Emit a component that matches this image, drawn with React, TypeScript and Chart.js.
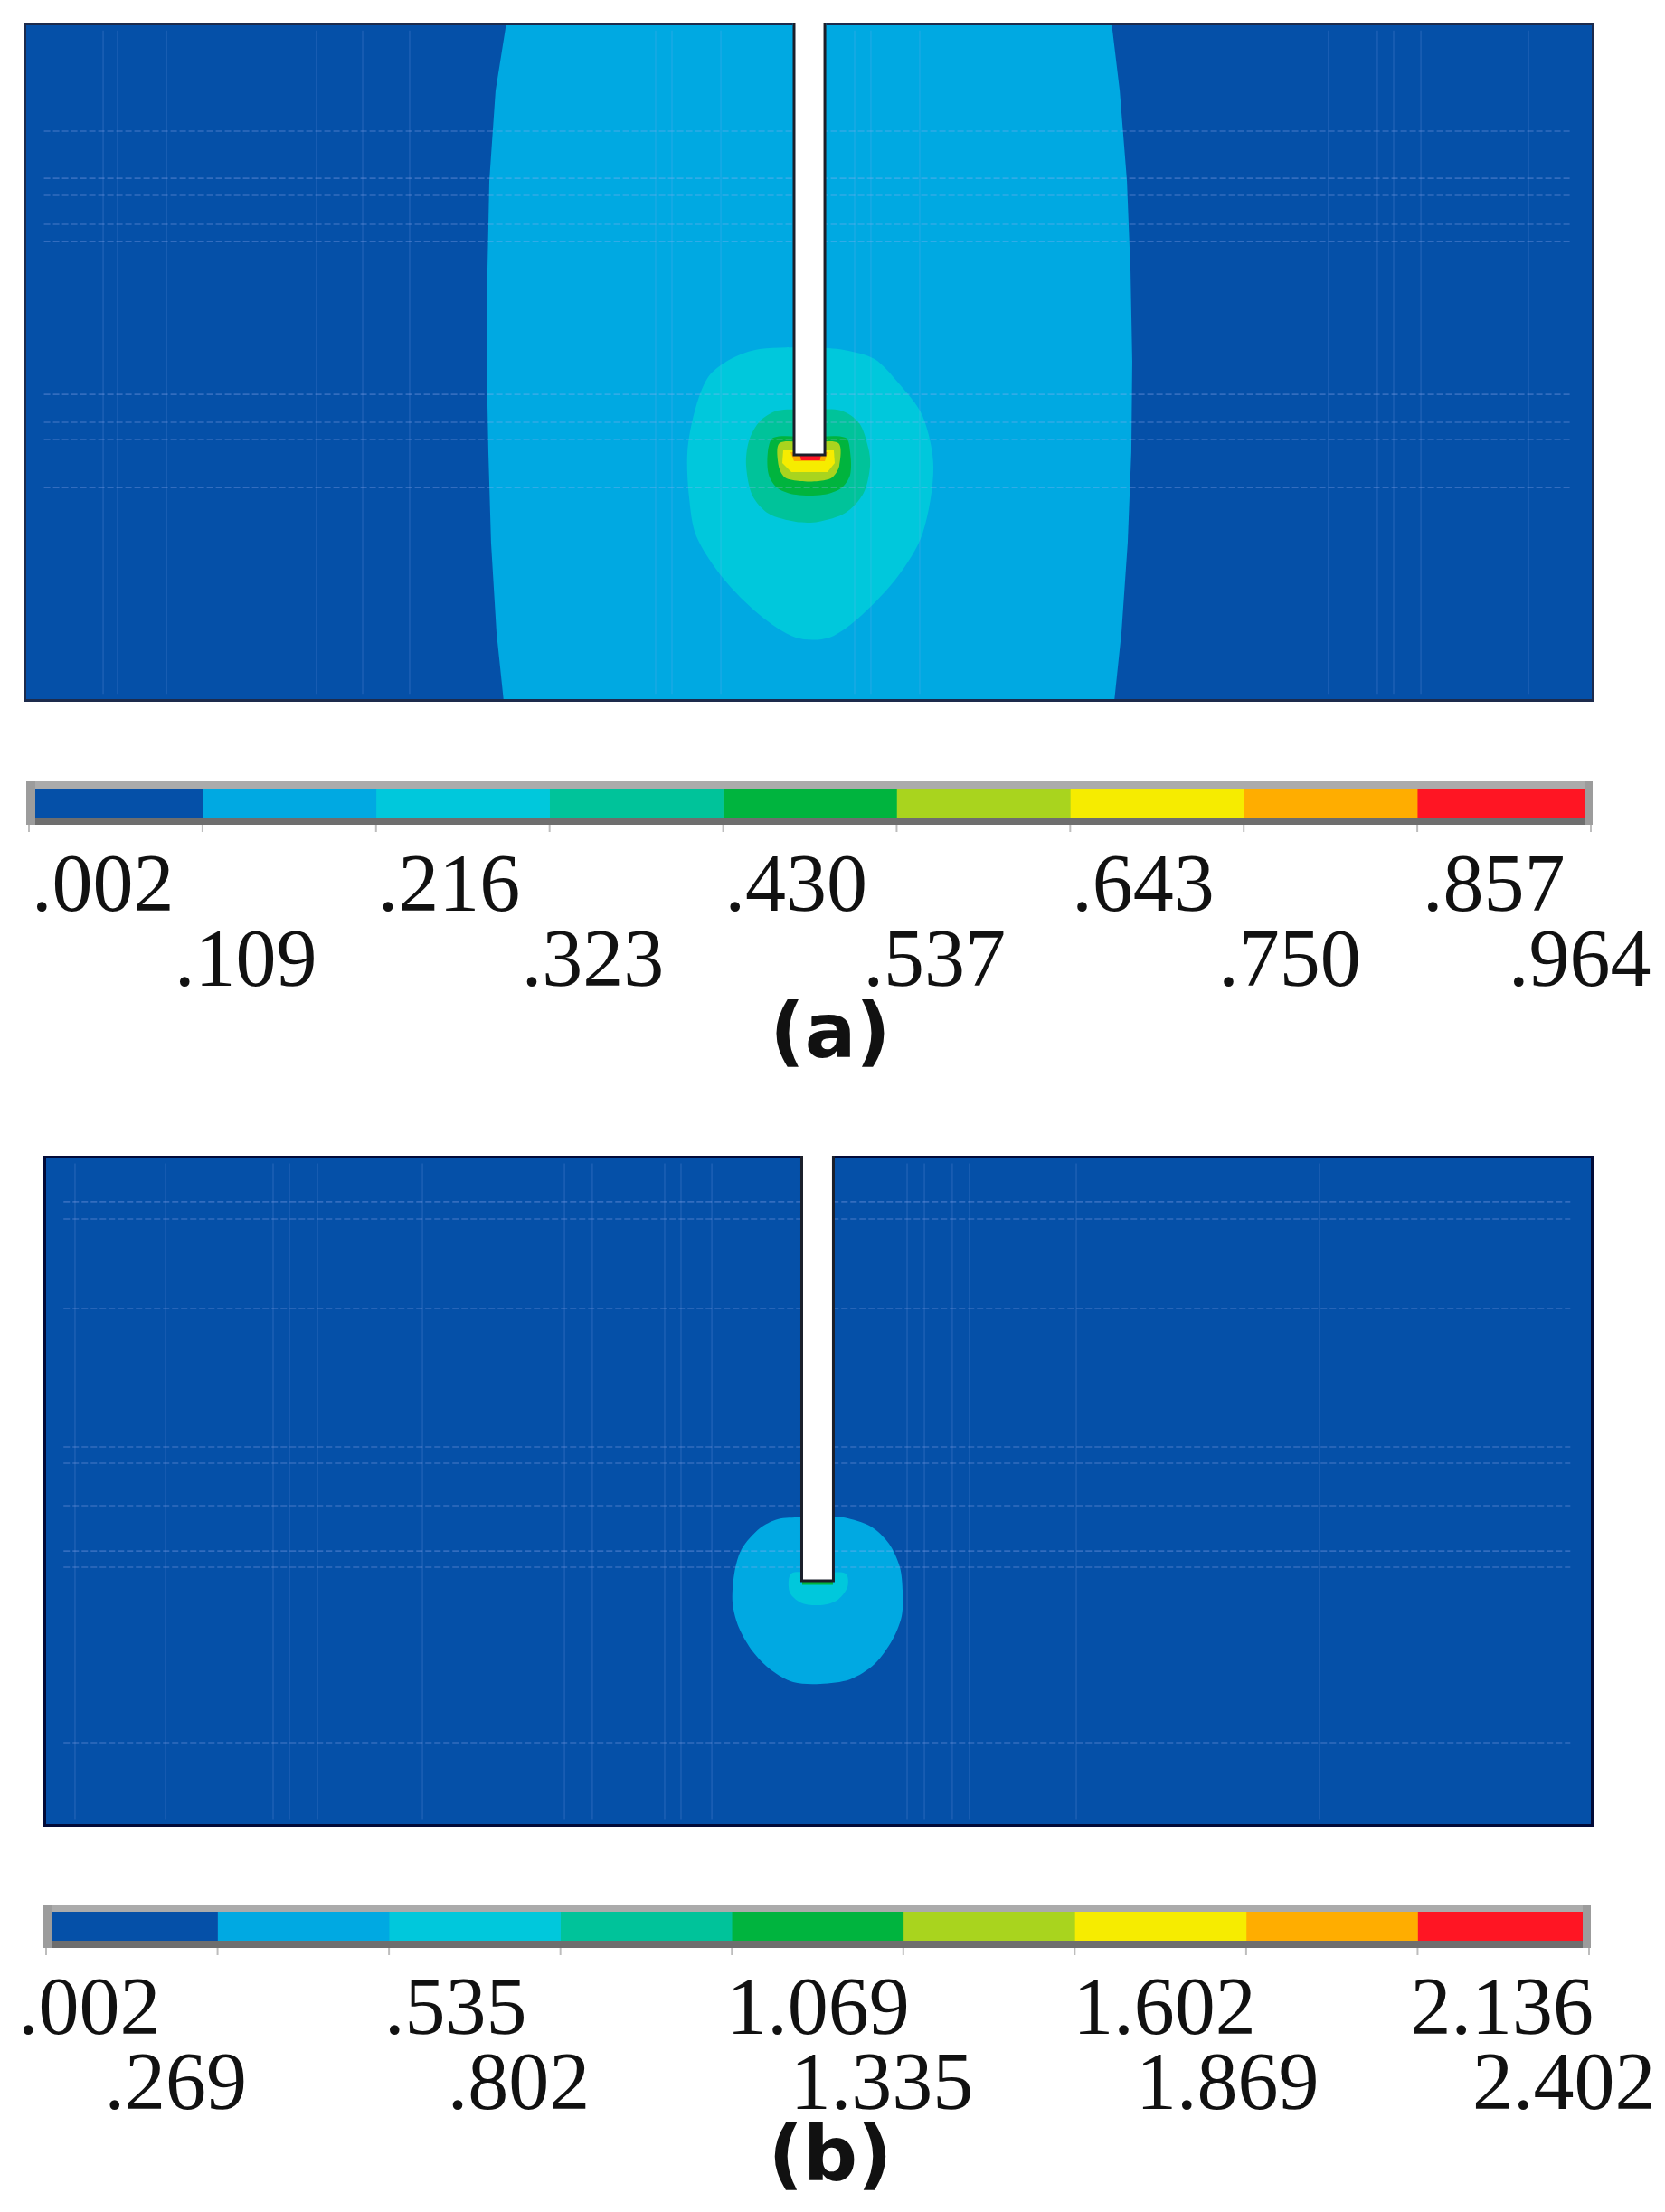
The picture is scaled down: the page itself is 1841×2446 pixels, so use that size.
import React, { useEffect, useRef } from "react";
import { Chart, registerables } from "chart.js";

Chart.register(...registerables);

type Pt = [number, number];

// ---------- colour levels (shared legend colours) ----------
const LEVEL_COLORS = [
  "#0550a8", "#00a9e2", "#00c8dc", "#00c39a", "#00b43e",
  "#a9d41e", "#f6ec00", "#ffad00", "#ff1523",
];

// ---------- legend tick labels ----------
const LEGEND_A = [".002", ".109", ".216", ".323", ".430", ".537", ".643", ".750", ".857", ".964"];
const LEGEND_B = [".002", ".269", ".535", ".802", "1.069", "1.335", "1.602", "1.869", "2.136", "2.402"];

// ---------- panel (a) : model coordinates (x along specimen, y height) ----------
const A_XRANGE: Pt = [0, 100];
const A_YRANGE: Pt = [0, 43.24];
const A_LEVEL0: Pt[] = [[0, 0], [100, 0], [100, 43.24], [0, 43.24]];
const A_LEVEL1: Pt[] = [
  [30.74, 43.24], [30.05, 38.92], [29.65, 33.16], [29.53, 27.4], [29.48, 21.65], [29.59, 15.89],
  [29.76, 10.13], [30.11, 4.38], [30.57, 0], [69.43, 0], [69.89, 4.38], [70.29, 10.13],
  [70.52, 15.89], [70.58, 21.65], [70.47, 27.4], [70.24, 33.16], [69.78, 38.92], [69.26, 43.24],
];
const A_LEVEL2: Pt[] = [
  [50.32, 22.57], [52.22, 22.4], [54.17, 21.82], [55.67, 20.32], [57.23, 18.19],
  [57.92, 14.91], [57.23, 10.71], [55.67, 8.0], [53.37, 5.53], [51.3, 4.09], [49.16, 4.09],
  [46.86, 5.53], [44.56, 7.83], [42.83, 10.54], [42.37, 13.01], [42.26, 15.89], [42.72, 18.48],
  [43.58, 20.67], [45.02, 21.82], [46.86, 22.45],
];
const A_LEVEL3: Pt[] = [
  [50.0, 18.6], [52.04, 18.54], [53.2, 17.73], [53.77, 16.18], [53.89, 15.03], [53.48, 13.3],
  [52.33, 12.03], [50.6, 11.46], [49.17, 11.46], [47.44, 11.97], [46.4, 13.13], [46.0, 15.03],
  [46.17, 16.58], [46.86, 17.85], [48.01, 18.54],
];
const A_LEVEL4: Pt[] = [
  [50.0, 16.85], [52.33, 16.81], [52.62, 15.89], [52.62, 14.45], [52.04, 13.59], [50.89, 13.18],
  [49.17, 13.18], [48.01, 13.59], [47.44, 14.45], [47.38, 15.89], [47.73, 16.81],
];
const A_LEVEL5: Pt[] = [
  [50.0, 16.5], [51.87, 16.47], [51.93, 15.03], [51.47, 14.28], [50.6, 14.05], [49.45, 14.05],
  [48.47, 14.28], [48.07, 15.03], [48.13, 16.47],
];
const A_LEVEL6: Pt[] = [
  [48.36, 16.0], [51.58, 16.0], [51.64, 15.2], [51.18, 14.62], [48.88, 14.62], [48.3, 15.2],
];
const A_LEVEL7: Pt[] = [[48.82, 15.89], [51.18, 15.89], [51.01, 15.31], [49.05, 15.31]];
const A_LEVEL8: Pt[] = [[49.4, 15.77], [50.78, 15.77], [50.7, 15.37], [49.5, 15.37]];
const A_SLOT: Pt[] = [[49.05, 43.24], [49.05, 15.72], [51.01, 15.72], [51.01, 43.24]];
const A_MESH_H = [36.33, 33.33, 32.24, 30.4, 29.3, 19.57, 17.79, 16.7, 13.64];
const A_MESH_V = [5.07, 5.99, 9.1, 18.65, 21.59, 24.58, 40.24, 41.28, 44.39, 52.91, 53.94, 57.05, 83.07, 86.18, 87.22, 88.95, 95.8];

// ---------- panel (b) ----------
const B_XRANGE: Pt = [0, 100];
const B_YRANGE: Pt = [0, 43.29];
const B_LEVEL0: Pt[] = [[0, 0], [100, 0], [100, 43.29], [0, 43.29]];
const B_LEVEL1: Pt[] = [
  [50.2, 20.0], [51.63, 19.95], [53.38, 19.37], [54.55, 18.26], [55.25, 16.74], [55.43, 15.17],
  [55.37, 13.59], [54.78, 12.08], [53.62, 10.5], [52.04, 9.51], [50.12, 9.22], [48.37, 9.33],
  [46.97, 10.09], [45.8, 11.26], [44.87, 12.84], [44.46, 14.41], [44.57, 16.34], [45.04, 17.91],
  [46.21, 19.25], [47.37, 19.84], [48.83, 19.97],
];
const B_LEVEL2: Pt[] = [
  [50.0, 16.34], [51.75, 16.34], [51.87, 15.46], [51.17, 14.59], [50.0, 14.29], [48.83, 14.47], [48.13, 15.17], [48.25, 16.34],
];
const B_LEVEL3: Pt[] = [[48.95, 15.93], [50.93, 15.93], [50.93, 15.6], [48.95, 15.6]];
const B_SLOT: Pt[] = [[48.92, 43.29], [48.92, 15.87], [50.96, 15.87], [50.96, 43.29]];
const B_MESH_H = [40.32, 39.21, 33.43, 24.5, 23.45, 20.71, 17.79, 16.74, 5.43];
const B_MESH_V = [2.04, 7.88, 14.82, 15.87, 17.68, 24.45, 33.61, 35.41, 40.08, 41.13, 43.12, 55.72, 56.83, 58.63, 59.74, 66.63, 82.32];

// ---------- layout (not data) ----------
const LABEL_DX_A = [3, -31, 2, -31, 2, -37, 2, -28, 6, -91];
const LABEL_DX_B = [-31, -125, -5, -125, -6, -125, -2, -122, -8, -129];

type Region = { level: number; pts: Pt[]; smooth?: boolean };

interface ContourProps {
  left: number; top: number; width: number; height: number;
  xr: Pt; yr: Pt; regions: Region[]; slot: Pt[];
  meshH: number[]; meshV: number[]; frameColor: string;
}

function ContourPanel(p: ContourProps) {
  const ref = useRef<HTMLCanvasElement>(null);
  useEffect(() => {
    const canvas = ref.current!;
    const ds: any[] = [];
    p.regions.forEach((r, i) => {
      ds.push({
        data: [...r.pts, r.pts[0]].map(([x, y]) => ({ x, y })),
        backgroundColor: LEVEL_COLORS[r.level],
        borderColor: "rgba(0,0,0,0)",
        borderWidth: 1,
        fill: "shape",
        pointRadius: 0,
        pointHoverRadius: 0,
        tension: r.smooth ? 0.3 : 0,
        order: 100 - i,
      });
    });
    const mx0 = p.xr[0] + 1.3, mx1 = p.xr[1] - 1.5;
    p.meshH.forEach((y) => {
      ds.push({
        data: [{ x: mx0, y }, { x: mx1, y }],
        borderColor: "rgba(160,180,245,0.3)",
        borderWidth: 1.6,
        borderDash: [7, 3],
        fill: false,
        pointRadius: 0,
        order: 5,
      });
    });
    p.meshV.forEach((x) => {
      ds.push({
        data: [{ x, y: p.yr[0] + 0.5 }, { x, y: p.yr[1] - 0.5 }],
        borderColor: "rgba(150,175,245,0.16)",
        borderWidth: 1.6,
        fill: false,
        pointRadius: 0,
        order: 5,
      });
    });
    ds.push({
      data: p.slot.map(([x, y]) => ({ x, y })),
      backgroundColor: "#ffffff",
      borderColor: "#1b1f2a",
      borderWidth: 3,
      fill: "shape",
      pointRadius: 0,
      tension: 0,
      order: 0,
    });
    const frame = {
      id: "frame",
      afterDatasetsDraw(chart: any) {
        const { ctx, chartArea } = chart;
        const { left, right, top, bottom } = chartArea;
        const xs = chart.scales.x;
        const sl = xs.getPixelForValue(p.slot[0][0]);
        const sr = xs.getPixelForValue(p.slot[3][0]);
        ctx.save();
        ctx.strokeStyle = p.frameColor;
        ctx.lineWidth = 3;
        ctx.beginPath();
        ctx.moveTo(sl - 1.5, top + 1.5);
        ctx.lineTo(left + 1.5, top + 1.5);
        ctx.lineTo(left + 1.5, bottom - 1.5);
        ctx.lineTo(right - 1.5, bottom - 1.5);
        ctx.lineTo(right - 1.5, top + 1.5);
        ctx.lineTo(sr + 1.5, top + 1.5);
        ctx.stroke();
        ctx.restore();
      },
    };
    const chart = new Chart(canvas, {
      type: "line",
      data: { datasets: ds },
      options: {
        responsive: false,
        animation: false,
        devicePixelRatio: 1,
        events: [],
        layout: { padding: 0 },
        plugins: { legend: { display: false }, tooltip: { enabled: false } },
        scales: {
          x: { type: "linear", min: p.xr[0], max: p.xr[1], display: false },
          y: { type: "linear", min: p.yr[0], max: p.yr[1], display: false },
        },
      },
      plugins: [frame],
    } as any);
    return () => chart.destroy();
  }, []);
  return (
    <canvas
      ref={ref}
      width={p.width}
      height={p.height}
      style={{ position: "absolute", left: p.left, top: p.top, width: p.width, height: p.height }}
    />
  );
}

interface BarProps {
  top: number; height: number; padL: number; padR: number; padT: number; padB: number;
  labels: string[]; dx: number[]; tag: string; tagX: number;
}

function ColorBar(p: BarProps) {
  const ref = useRef<HTMLCanvasElement>(null);
  useEffect(() => {
    const canvas = ref.current!;
    const datasets = LEVEL_COLORS.map((c, i) => ({
      data: [[i, i + 1]],
      backgroundColor: c,
      borderWidth: 0,
      barPercentage: 1,
      categoryPercentage: 1,
      grouped: false,
    }));
    const deco = {
      id: "deco",
      afterDatasetsDraw(chart: any) {
        const { ctx, chartArea } = chart;
        const { left: L, right: R, top: T, bottom: B } = chartArea;
        const xs = chart.scales.x;
        ctx.save();
        ctx.fillStyle = "#ababab";
        ctx.fillRect(L - 3, T - 8, R - L + 5, 8);
        ctx.fillStyle = "#6e6e6e";
        ctx.fillRect(L - 3, B, R - L + 5, 8);
        ctx.fillStyle = "#9c9c9c";
        ctx.fillRect(L - 3, T - 8, 10, B - T + 16);
        ctx.fillRect(R - 7, T - 8, 9, B - T + 16);
        ctx.strokeStyle = "#bdbdbd";
        ctx.lineWidth = 2;
        for (let i = 0; i <= LEVEL_COLORS.length; i++) {
          const x = xs.getPixelForValue(i);
          ctx.beginPath();
          ctx.moveTo(x, B + 8);
          ctx.lineTo(x, B + 16);
          ctx.stroke();
        }
        ctx.fillStyle = "#111111";
        ctx.font = '90px "Liberation Serif"';
        ctx.textAlign = "left";
        ctx.textBaseline = "alphabetic";
        p.labels.forEach((t, i) => {
          const x = xs.getPixelForValue(i) + p.dx[i];
          const y = i % 2 === 0 ? B + 103 : B + 186;
          ctx.fillText(t, x, y);
        });
        ctx.font = 'bold 84px "DejaVu Sans"';
        ctx.textAlign = "center";
        ctx.fillText(p.tag, p.tagX, B + 265);
        ctx.restore();
      },
    };
    const chart = new Chart(canvas, {
      type: "bar",
      data: { labels: ["levels"], datasets },
      options: {
        indexAxis: "y",
        responsive: false,
        animation: false,
        devicePixelRatio: 1,
        events: [],
        layout: { padding: { left: p.padL, right: p.padR, top: p.padT, bottom: p.padB } },
        plugins: { legend: { display: false }, tooltip: { enabled: false } },
        scales: {
          x: { type: "linear", min: 0, max: LEVEL_COLORS.length, display: false },
          y: { display: false },
        },
      },
      plugins: [deco],
    } as any);
    return () => chart.destroy();
  }, []);
  return (
    <canvas
      ref={ref}
      width={1841}
      height={p.height}
      style={{ position: "absolute", left: 0, top: p.top, width: 1841, height: p.height }}
    />
  );
}

export default function App() {
  const regionsA: Region[] = [
    { level: 0, pts: A_LEVEL0 }, { level: 1, pts: A_LEVEL1 }, { level: 2, pts: A_LEVEL2, smooth: true },
    { level: 3, pts: A_LEVEL3, smooth: true }, { level: 4, pts: A_LEVEL4, smooth: true },
    { level: 5, pts: A_LEVEL5, smooth: true }, { level: 6, pts: A_LEVEL6 }, { level: 7, pts: A_LEVEL7 },
    { level: 8, pts: A_LEVEL8 },
  ];
  const regionsB: Region[] = [
    { level: 0, pts: B_LEVEL0 }, { level: 1, pts: B_LEVEL1, smooth: true },
    { level: 2, pts: B_LEVEL2, smooth: true }, { level: 4, pts: B_LEVEL3 },
  ];
  return (
    <div style={{ position: "absolute", left: 0, top: 0, width: 1841, height: 2446, background: "#ffffff", overflow: "hidden" }}>
      <ContourPanel left={26} top={25} width={1737} height={751} xr={A_XRANGE} yr={A_YRANGE}
        regions={regionsA} slot={A_SLOT} meshH={A_MESH_H} meshV={A_MESH_V} frameColor="#1d2b4c" />
      <ColorBar top={840} height={360} padL={32} padR={82} padT={32} padB={296}
        labels={LEGEND_A} dx={LABEL_DX_A} tag="(a)" tagX={918} />
      <ContourPanel left={48} top={1278} width={1714} height={742} xr={B_XRANGE} yr={B_YRANGE}
        regions={regionsB} slot={B_SLOT} meshH={B_MESH_H} meshV={B_MESH_V} frameColor="#020b38" />
      <ColorBar top={2080} height={366} padL={51} padR={84} padT={34} padB={300}
        labels={LEGEND_B} dx={LABEL_DX_B} tag="(b)" tagX={918} />
    </div>
  );
}
